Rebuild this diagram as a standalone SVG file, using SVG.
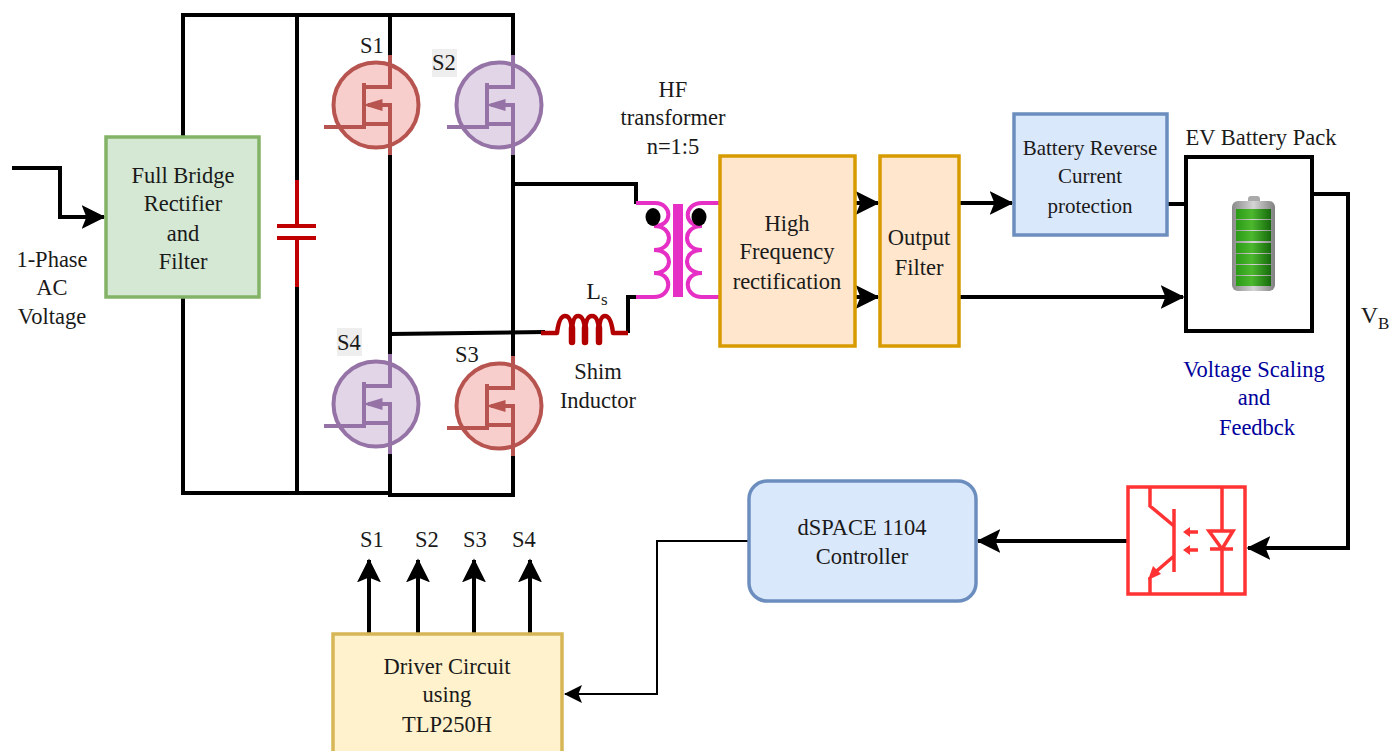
<svg xmlns="http://www.w3.org/2000/svg" xmlns:xlink="http://www.w3.org/1999/xlink" width="1389" height="751" viewBox="0 0 1389 751">
<style>
text{font-family:"Liberation Serif","Times New Roman",serif;font-size:22.5px;fill:#1a1a1a;text-anchor:middle}
.w{fill:none;stroke:#000;stroke-width:4}
.a{fill:none;stroke:#000;stroke-width:4;marker-end:url(#ah)}
.p{fill:none;stroke:#e62fc4;stroke-width:4}
.box{stroke-width:3.5}
.red{fill:#f8cecc;stroke:#b85450}
.pur{fill:#e1d5e7;stroke:#9673a6}
.o{fill:none;stroke:#ff3333;stroke-width:3.5}
.sm{font-size:21px}
.big{font-size:24px}
.sub{font-size:17px}
.blue{fill:#00009c}
</style>
<defs>
<marker id="ah" markerWidth="7" markerHeight="7" refX="5.6" refY="3" orient="auto" markerUnits="strokeWidth"><path d="M0,0L6,3L0,6L1.2,3Z" fill="#000"/></marker>
<marker id="ahs" markerWidth="10" markerHeight="10" refX="8.5" refY="4.5" orient="auto" markerUnits="strokeWidth"><path d="M0,0L9,4.5L0,9L1.8,4.5Z" fill="#000"/></marker>
<linearGradient id="bat" x1="0" x2="1" y1="0" y2="0"><stop offset="0" stop-color="#8a8a8a"/><stop offset=".5" stop-color="#d4d4d4"/><stop offset="1" stop-color="#808080"/></linearGradient>
<linearGradient id="cell" x1="0" x2="1" y1="0" y2="0"><stop offset="0" stop-color="#2a9a16"/><stop offset=".45" stop-color="#4cb82e"/><stop offset="1" stop-color="#166a0c"/></linearGradient>
<g id="fet">
<circle cx="0" cy="0" r="42.5" stroke-width="4"/>
<path fill="none" stroke-width="4" d="M14,-50V-18H-12M-12,-22V22M-52,22H-10M-12,19H14M14,50V0H-8"/>
<path fill="none" stroke-width="3" d="M-8,0L5,-4V4Z"/>
</g>
</defs>

<g id="connectors">
<path class="w" d="M183,137V15H513V55M183,297V493H390M297,15V180M297,287V493"/>
<path class="w" d="M390,15V55M390,154V355M390,454V495H513V456M513,154V357"/>
<path class="w" d="M513,184H636V204M390,334L545,332M628,333V297H636"/>
<path class="a" d="M12,168H60V217H104"/>
<path class="a" d="M855,203H878"/>
<path class="a" d="M855,297H878"/>
<path class="a" d="M959,203H1012"/>
<path class="a" d="M959,297H1183"/>
<path class="w" d="M1167,204H1186"/>
<path class="a" d="M1312,194H1348V548H1248"/>
<path class="a" d="M1128,541H978"/>
<path d="M749,541H657V694H565" fill="none" stroke="#000" stroke-width="2" marker-end="url(#ahs)"/>
<path class="a" d="M369,634V560"/>
<path class="a" d="M418,634V560"/>
<path class="a" d="M474,634V560"/>
<path class="a" d="M530,634V560"/>
</g>

<g id="input-label"><text x="52" y="267">1-Phase</text><text x="52" y="295">AC</text><text x="52" y="324">Voltage</text></g>

<g id="rectifier">
<rect class="box" x="106" y="137" width="153" height="160" fill="#d5e8d4" stroke="#82b366"/>
<text x="183" y="183">Full Bridge</text><text x="183" y="211">Rectifier</text><text x="183" y="241">and</text><text x="183" y="269">Filter</text>
</g>

<g id="capacitor">
<path d="M297,180V226M277,226H316M277,238H316M297,238V287" fill="none" stroke="#c00000" stroke-width="4"/>
</g>

<g id="s1"><use href="#fet" x="376" y="105" class="red"/><text x="372" y="53">S1</text></g>
<g id="s2"><rect x="432" y="49" width="25" height="28" fill="#eeeeee"/><use href="#fet" x="499" y="105" class="pur"/><text x="444" y="70">S2</text></g>
<g id="s3"><use href="#fet" x="499" y="406" class="red"/><text x="467" y="362">S3</text></g>
<g id="s4"><rect x="337" y="328" width="25" height="28" fill="#eeeeee"/><use href="#fet" x="376" y="404" class="pur"/><text x="349" y="350">S4</text></g>

<g id="inductor">
<path d="M541,333H557Q559,316 565,316Q572,316 572,335Q572,316 578,316Q585,316 585,335Q585,316 592,316Q599,316 599,335Q599,316 605,316Q611,316 613,333H628" fill="none" stroke="#b20000" stroke-width="4.5" stroke-linejoin="round"/>
<path d="M572,328V342M585,328V342M599,328V342" fill="none" stroke="#b20000" stroke-width="6.5" stroke-linecap="round"/>
<text x="597" y="299" class="big">L<tspan class="sub" dy="6">s</tspan></text>
<text x="598" y="379">Shim</text><text x="598" y="408">Inductor</text>
</g>

<g id="transformer">
<text x="673" y="97">HF</text><text x="673" y="125">transformer</text><text x="673" y="154">n=1:5</text>
<path class="p" d="M636,203H655C672,203 674,226 654,226C674,226 674,250 654,250C674,250 674,273 654,273C674,273 672,297 654,297H636"/>
<path class="p" d="M720,203H702C684,203 682,226 702,226C682,226 682,250 702,250C682,250 682,273 702,273C682,273 684,297 702,297H720"/>
<rect x="673" y="204" width="10" height="93" fill="#e62fc4"/>
<ellipse cx="653" cy="217" rx="7.5" ry="9" fill="#000"/><ellipse cx="699" cy="217" rx="7.5" ry="9" fill="#000"/>
</g>

<g id="hf-rect">
<rect class="box" x="720" y="156" width="135" height="190" fill="#ffe6cc" stroke="#d79b00"/>
<text x="787" y="231">High</text><text x="787" y="259">Frequency</text><text x="787" y="289">rectification</text>
</g>
<g id="output-filter">
<rect class="box" x="880" y="156" width="79" height="190" fill="#ffe6cc" stroke="#d79b00"/>
<text x="919" y="245">Output</text><text x="919" y="275">Filter</text>
</g>
<g id="protection">
<rect class="box" x="1014" y="114" width="153" height="121" fill="#dae8fc" stroke="#6c8ebf"/>
<text x="1090" y="155" class="sm">Battery Reverse</text><text x="1090" y="183" class="sm">Current</text><text x="1090" y="213" class="sm">protection</text>
</g>
<g id="battery">
<text x="1261" y="145">EV Battery Pack</text>
<rect x="1186" y="157" width="126" height="174" fill="#fff" stroke="#000" stroke-width="4"/>
<rect x="1248" y="196" width="12" height="8" rx="3" fill="#aaa"/>
<rect x="1232" y="201" width="43" height="90" rx="6" fill="url(#bat)"/>
<rect x="1236" y="209" width="35" height="10" fill="url(#cell)"/><rect x="1236" y="220" width="35" height="10" fill="url(#cell)"/><rect x="1236" y="231" width="35" height="10" fill="url(#cell)"/><rect x="1236" y="243" width="35" height="10" fill="url(#cell)"/><rect x="1236" y="254" width="35" height="10" fill="url(#cell)"/><rect x="1236" y="265" width="35" height="10" fill="url(#cell)"/><rect x="1236" y="276" width="35" height="10" fill="url(#cell)"/>
</g>
<g id="vb-label"><text x="1375" y="323" class="big">V<tspan class="sub" dy="6">B</tspan></text></g>
<g id="feedback-label">
<text x="1254" y="377" class="blue">Voltage Scaling</text><text x="1254" y="405" class="blue">and</text><text x="1257" y="435" class="blue">Feedbck</text>
</g>
<g id="optocoupler">
<rect class="o" x="1128" y="487" width="117" height="107"/>
<path class="o" d="M1150,487V506L1174,526M1174,509V572M1174,556L1152,575M1150,577V594M1222,487V531M1222,549V594M1210,549H1233M1209,531H1233L1222,549Z"/>
<path d="M1183,532L1190,527V537ZM1183,550L1190,545V555Z" fill="#ff3333"/>
<path class="o" d="M1188,532H1198M1188,550H1198"/>
<path d="M1148,580L1153,566L1161,574Z" fill="#ff3333"/>
</g>
<g id="controller">
<rect class="box" x="749" y="481" width="227" height="120" rx="18" fill="#dae8fc" stroke="#6c8ebf"/>
<text x="862" y="535">dSPACE 1104</text><text x="862" y="564">Controller</text>
</g>
<g id="driver">
<rect class="box" x="333" y="634" width="229" height="125" fill="#fff2cc" stroke="#d6b656"/>
<text x="447" y="674">Driver Circuit</text><text x="447" y="702">using</text><text x="447" y="732">TLP250H</text>
</g>
<g id="gate-labels"><text x="372" y="547">S1</text><text x="427" y="547">S2</text><text x="475" y="547">S3</text><text x="524" y="547">S4</text></g>
</svg>
